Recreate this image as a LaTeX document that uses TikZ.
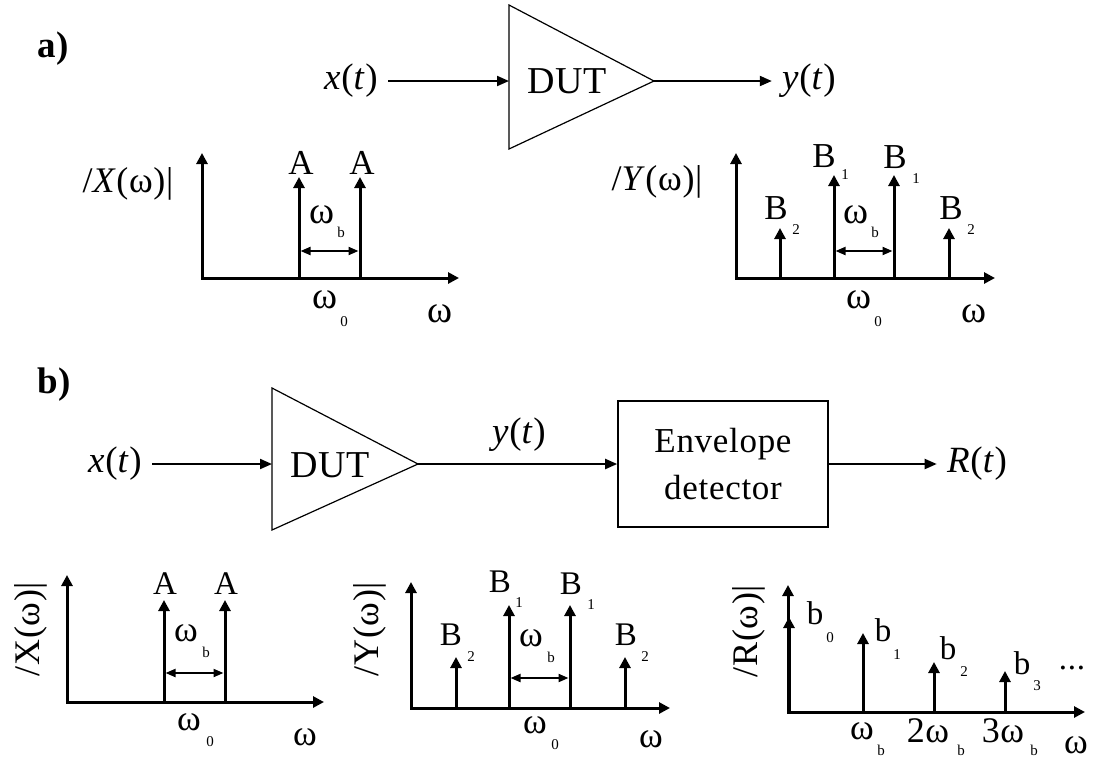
\documentclass[tikz,border=0pt]{standalone}
\usepackage{fontspec}
\setmainfont{Liberation Serif}[LetterSpace=2]
\usetikzlibrary{arrows.meta}
\tikzset{
  every node/.style={inner sep=0pt},
  tagtxt/.style={font=\fontsize{18.5}{22}\selectfont\bfseries},
  sig/.style={font=\fontsize{18.5}{22}\selectfont, inner sep=5pt},
  duttxt/.style={font=\fontsize{19}{22}\selectfont},
  spec/.style={font=\fontsize{17.5}{20}\selectfont},
  specsm/.style={font=\fontsize{16.5}{19}\selectfont},
  omg/.style={font=\fontsize{19}{22}\selectfont},
  omgsm/.style={font=\fontsize{18}{21}\selectfont},
  axlab/.style={font=\fontsize{18}{20}\selectfont},
  subtxt/.style={font=\fontsize{7.5}{9}\selectfont},
  amp/.style={draw, line width=0.6pt, line join=miter},
  block/.style={draw, line width=0.8pt, minimum width=105pt, minimum height=63pt,
    align=center, font=\fontsize{17.5}{23.5}\selectfont},
  flow/.style={-{Triangle[length=6pt,width=5pt]}, line width=1pt},
  axes/.style={{Triangle[length=5.5pt,width=5.5pt]}-{Triangle[length=5.5pt,width=5.5pt]},
    line width=1.5pt, line join=miter},
  impulse/.style={-{Triangle[length=5.5pt,width=5.5pt]}, line width=1.5pt},
  spacing/.style={{Triangle[length=5pt,width=4pt]}-{Triangle[length=5pt,width=4pt]}, line width=1pt},
}
\begin{document}
\begin{tikzpicture}[x=0.5pt, y=-0.5pt]
  \useasboundingbox (0,0) rectangle (1094,762);
  % ---------- a) single DUT ----------
  \node[tagtxt] (taga) at (53,49) {a)};
  \node[sig] (xa) at (351,81) {\textit{x}(\textit{t})};
  \coordinate (dutA-top) at (509,5);
  \coordinate (dutA-bot) at (509,149);
  \coordinate (dutA-in) at (509,81);
  \coordinate (dutA-out) at (654,81);
  \draw[amp] (dutA-top) -- (dutA-out) -- (dutA-bot) -- cycle;
  \node[duttxt] (dutA) at (567,81) {DUT};
  \node[sig] (ya) at (809,81) {\textit{y}(\textit{t})};
  \draw[flow] (xa.east) -- (dutA-in);
  \draw[flow] (dutA-out) -- (ya.west);
  % input spectrum
  \draw[axes] (202,153) -- (202,278) -- (459,278);
  \foreach \x in {299,360} \draw[impulse] (\x,278) -- (\x,177);
  \draw[spacing] (300.5,251) -- (358.5,251);
  \node[axlab] (XaLab) at (128,184) {/\textit{X}(ω)|};
  \node[spec] (Aa1) at (301,163) {A};
  \node[spec] (Aa2) at (362,163) {A};
  \node[omg] (wbXa) at (322,215) {ω};
  \node[subtxt] (wbXa-s) at (341,232) {b};
  \node[omg] (w0Xa) at (325,300) {ω};
  \node[subtxt] (w0Xa-s) at (344,322) {0};
  \node[omg] (wXa) at (440,314) {ω};
  % output spectrum
  \draw[axes] (736,153) -- (736,278) -- (995,278);
  \foreach \x/\t in {780/228,834/175,894/175,949/228} \draw[impulse] (\x,278) -- (\x,\t);
  \draw[spacing] (835.5,251) -- (892.5,251);
  \node[axlab] (YaLab) at (657,182) {/\textit{Y}(ω)|};
  \foreach \n/\x/\y in {1/824/156, 2/895/157, 3/776/208, 4/951/208}
    \node[spec] (Ba\n) at (\x,\y) {B};
  \foreach \n/\x/\y/\s in {1/845/175/1, 2/916/179/1, 3/796/230/2, 4/971/230/2}
    \node[subtxt] (Ba\n-s) at (\x,\y) {\s};
  \node[omg] (wbYa) at (856,215) {ω};
  \node[subtxt] (wbYa-s) at (875,232) {b};
  \node[omg] (w0Ya) at (859,300) {ω};
  \node[subtxt] (w0Ya-s) at (878,322) {0};
  \node[omg] (wYa) at (974,314) {ω};
  % ---------- b) DUT and envelope detector ----------
  \node[tagtxt] (tagb) at (54,385) {b)};
  \node[sig] (xb) at (115,464) {\textit{x}(\textit{t})};
  \coordinate (dutB-top) at (272,388);
  \coordinate (dutB-bot) at (272,530);
  \coordinate (dutB-in) at (272,464);
  \coordinate (dutB-out) at (418,464);
  \draw[amp] (dutB-top) -- (dutB-out) -- (dutB-bot) -- cycle;
  \node[duttxt] (dutB) at (330,465) {DUT};
  \node[block] (env) at (723,464) {Envelope\\detector};
  \node[sig] (yb) at (519,435) {\textit{y}(\textit{t})};
  \node[sig] (Rt) at (977,464) {\textit{R}(\textit{t})};
  \draw[flow] (xb.east) -- (dutB-in);
  \draw[flow] (dutB-out) -- (env.west);
  \draw[flow] (env.east) -- (Rt.west);
  % input spectrum
  \draw[axes] (67,575) -- (67,702) -- (324,702);
  \foreach \x in {164,225} \draw[impulse] (\x,702) -- (\x,600);
  \draw[spacing] (165.5,673) -- (223.5,673);
  \node[axlab, rotate=90] (XbLab) at (31,629) {/X(ω)|};
  \node[specsm] (Ab1) at (165,584) {A};
  \node[specsm] (Ab2) at (226,584) {A};
  \node[omgsm] (wbXb) at (186,633) {ω};
  \node[subtxt] (wbXb-s) at (206,652) {b};
  \node[omgsm] (w0Xb) at (189,722) {ω};
  \node[subtxt] (w0Xb-s) at (210,742) {0};
  \node[omgsm] (wXb) at (305,737) {ω};
  % output spectrum
  \draw[axes] (411,582) -- (411,708) -- (670,708);
  \foreach \x/\t in {456/657,509/605,570/605,625/657} \draw[impulse] (\x,708) -- (\x,\t);
  \draw[spacing] (510.5,678) -- (568.5,678);
  \node[axlab, rotate=90] (YbLab) at (370,629) {/Y(ω)|};
  \foreach \n/\x/\y in {1/500/582, 2/571/584, 3/451/635, 4/626/635}
    \node[specsm] (Bb\n) at (\x,\y) {B};
  \foreach \n/\x/\y/\s in {1/519/603/1, 2/591/605/1, 3/471/657/2, 4/645/657/2}
    \node[subtxt] (Bb\n-s) at (\x,\y) {\s};
  \node[omgsm] (wbYb) at (531,638) {ω};
  \node[subtxt] (wbYb-s) at (551,657) {b};
  \node[omgsm] (w0Yb) at (535,725) {ω};
  \node[subtxt] (w0Yb-s) at (555,745) {0};
  \node[omgsm] (wYb) at (651,739) {ω};
  % envelope spectrum
  \draw[axes] (788,585) -- (788,712) -- (1085,712);
  \foreach \x/\t in {789/617,863/633,934/662,1005/671} \draw[impulse] (\x,712) -- (\x,\t);
  \node[axlab, rotate=90] (RbLab) at (749,631) {/R(ω)|};
  \foreach \n/\x/\y/\sx/\sy in {0/815/613/830/638, 1/883/630/897/655, 2/948/648/964/672, 3/1022/663/1037/686} {
    \node[specsm] (bb\n) at (\x,\y) {b};
    \node[subtxt] (bb\n-s) at (\sx,\sy) {\n};
  }
  \node[specsm] (dots) at (1072,668) {...};
  \node[omgsm] (t1) at (862,731) {ω};
  \node[subtxt] (t1-s) at (881,750) {b};
  \node[omgsm] (t2) at (928,731) {2ω};
  \node[subtxt] (t2-s) at (961,750) {b};
  \node[omgsm] (t3) at (1003,731) {3ω};
  \node[subtxt] (t3-s) at (1034,750) {b};
  \node[omgsm] (wRb) at (1076,745) {ω};
\end{tikzpicture}
\end{document}
